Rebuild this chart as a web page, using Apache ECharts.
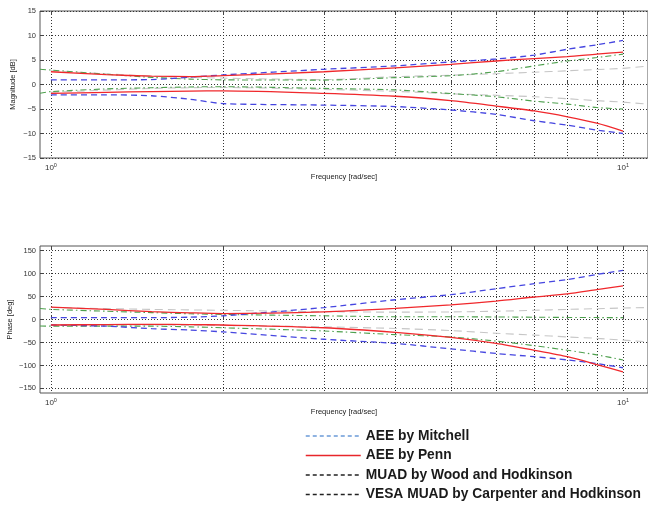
<!DOCTYPE html>
<html>
<head>
<meta charset="utf-8">
<script src="https://cdn.jsdelivr.net/npm/echarts@6.0.0/dist/echarts.min.js"></script>
<style>html,body{margin:0;padding:0;background:#fff}#c{width:648px;height:506px}</style>
</head>
<body>
<div id="c"></div>
<script>
// ---- data ----
const FREQ   = [1, 1.25, 1.5, 1.75, 2, 3, 4, 5, 6, 7, 8, 9, 10];
const FREQ_G = [0.957, 1, 1.25, 1.5, 1.75, 2, 3, 4, 5, 6, 7, 8, 9, 10];
const FREQ_V = [1, 1.5, 2, 3, 4, 5, 6, 7, 8, 9, 10, 11.06];

// Magnitude [dB]
const MAG_MITCHELL_UP = [0.95, 0.95, 1.0, 1.5, 1.95, 3.1, 3.8, 4.6, 5.2, 6.0, 7.2, 8.1, 9.0];
const MAG_MITCHELL_LO = [-2.1, -2.1, -2.3, -3.0, -3.9, -4.2, -4.5, -5.2, -6.1, -7.4, -8.3, -9.3, -10.0];
const MAG_PENN_UP     = [2.6, 2.0, 1.7, 1.6, 1.8, 2.6, 3.4, 4.1, 4.8, 5.3, 5.7, 6.2, 6.6];
const MAG_PENN_LO     = [-1.8, -1.6, -1.45, -1.35, -1.3, -1.8, -2.4, -3.3, -4.4, -5.4, -6.6, -7.9, -9.5];
const MAG_WOOD_UP     = [3.1, 2.95, 2.1, 1.45, 1.1, 0.95, 0.9, 1.4, 1.8, 2.6, 3.8, 4.8, 5.5, 6.2];
const MAG_WOOD_LO     = [-1.8, -1.45, -0.9, -0.65, -0.5, -0.45, -0.8, -1.1, -1.85, -2.5, -3.4, -4.0, -4.7, -5.0];
const MAG_VESA_UP     = [2.8, 1.7, 1.3, 1.0, 1.6, 1.9, 2.2, 2.5, 2.8, 3.05, 3.3, 3.75];
const MAG_VESA_LO     = [-1.6, -0.8, -0.6, -1.0, -1.4, -1.9, -2.2, -2.5, -2.9, -3.3, -3.6, -4.0];

// Phase [deg]
const PH_MITCHELL_UP = [4, 4, 4, 5, 8, 26, 43, 54, 67, 78, 87, 98, 107];
const PH_MITCHELL_LO = [-12, -14.5, -20, -23, -27, -43, -52, -64, -74, -81, -88, -96, -105];
const PH_PENN_UP     = [27, 22, 17, 14.5, 13, 16.5, 24, 32, 40, 49, 56, 65, 73];
const PH_PENN_LO     = [-12, -11, -10.5, -11, -12, -18, -28, -39, -52, -67, -81, -98, -114];
const PH_WOOD_UP     = [24, 22, 18, 15, 12.5, 11, 8, 6, 6, 5.5, 5, 4.5, 4.2, 4];
const PH_WOOD_LO     = [-14, -14.5, -14.5, -14.5, -16, -18, -25, -33, -38, -47, -57, -67, -77, -88];
const PH_VESA_UP     = [26, 22, 20, 17, 16, 16.5, 18, 20, 22, 23.5, 25, 26];
const PH_VESA_LO     = [-12, -12, -13, -16, -19.5, -24, -30, -34, -38, -41, -45, -48.5];

// axes
const X_MIN = 0.957, X_MAX = 11.06;
const X_TICKS = [1, 2, 3, 4, 5, 6, 7, 8, 9, 10];
const X_LABELS = [1, 10];
const MAG_TICKS = [-15, -10, -5, 0, 5, 10, 15];
const PHASE_TICKS = [-150, -100, -50, 0, 50, 100, 150];

const NAMES = ['AEE by Mitchell', 'AEE by Penn', 'MUAD by Wood and Hodkinson', 'VESA MUAD by Carpenter and Hodkinson'];

// ---- styles ----
const ST = {
  mitchell: {color: '#4646e0', type: [6, 4], width: 1.3},
  penn:     {color: '#f0282c', type: 'solid', width: 1.3},
  wood:     {color: '#4ea04e', type: [6, 3, 1.5, 3], width: 1.1},
  vesa:     {color: '#c6c6c6', type: [8, 5], width: 1.1}
};

function ser(name, xs, ys, g, st, z) {
  return {
    type: 'line', name: name, xAxisIndex: g, yAxisIndex: g,
    data: xs.map((f, i) => [f, ys[i]]),
    symbol: 'none', smooth: 0.25, z: z,
    lineStyle: {color: st.color, type: st.type, width: st.width},
    itemStyle: {color: st.color},
    emphasis: {disabled: true}
  };
}

const minus = v => String(v).replace('-', '\u2212');

function xAxis(g) {
  return {
    type: 'log', logBase: 10, gridIndex: g, min: X_MIN, max: X_MAX,
    axisLine: {show: false},
    axisTick: {show: true, inside: true, length: 4, customValues: X_TICKS, lineStyle: {color: '#444', width: 1}},
    axisLabel: {
      customValues: X_LABELS, margin: 4, color: '#333', fontSize: 8, fontFamily: 'Liberation Sans',
      formatter: v => '10{s|' + Math.round(Math.log10(v)) + '}',
      rich: {s: {fontSize: 5.5, padding: [0, 0, 6, 0], color: '#333', fontFamily: 'Liberation Sans'}}
    },
    splitLine: {show: true, lineStyle: {type: [1, 2], color: '#333', width: 1}},
    name: 'Frequency [rad/sec]', nameLocation: 'middle', nameGap: 15, nameMoveOverlap: false,
    nameTextStyle: {fontSize: 7.5, color: '#222', fontFamily: 'Liberation Sans'}
  };
}
function xAxisTop(g) {
  return {
    type: 'log', logBase: 10, gridIndex: g, min: X_MIN, max: X_MAX, position: 'top',
    axisLine: {show: false},
    axisTick: {show: true, inside: true, length: 4, customValues: X_TICKS, lineStyle: {color: '#444'}},
    axisLabel: {show: false}, splitLine: {show: false}
  };
}
function yAxis(g, min, max, ticks, name, gap) {
  return {
    type: 'value', gridIndex: g, min: min, max: max,
    axisLine: {show: false},
    axisTick: {show: true, inside: true, length: 4, customValues: ticks, lineStyle: {color: '#444'}},
    axisLabel: {customValues: ticks, formatter: minus, fontSize: 7.5, color: '#333', margin: 4, fontFamily: 'Liberation Sans'},
    splitLine: {show: true, lineStyle: {type: [1, 2], color: '#333', width: 1}},
    name: name, nameLocation: 'middle', nameGap: gap, nameRotate: 90, nameMoveOverlap: false,
    nameTextStyle: {fontSize: 7.5, color: '#222', fontFamily: 'Liberation Sans'}
  };
}

const series = [
  ser(NAMES[3], FREQ_V, MAG_VESA_UP, 0, ST.vesa, 2),
  ser(NAMES[3], FREQ_V, MAG_VESA_LO, 0, ST.vesa, 2),
  ser(NAMES[2], FREQ_G, MAG_WOOD_UP, 0, ST.wood, 3),
  ser(NAMES[2], FREQ_G, MAG_WOOD_LO, 0, ST.wood, 3),
  ser(NAMES[0], FREQ, MAG_MITCHELL_UP, 0, ST.mitchell, 4),
  ser(NAMES[0], FREQ, MAG_MITCHELL_LO, 0, ST.mitchell, 4),
  ser(NAMES[1], FREQ, MAG_PENN_UP, 0, ST.penn, 5),
  ser(NAMES[1], FREQ, MAG_PENN_LO, 0, ST.penn, 5),
  ser(NAMES[3], FREQ_V, PH_VESA_UP, 1, ST.vesa, 2),
  ser(NAMES[3], FREQ_V, PH_VESA_LO, 1, ST.vesa, 2),
  ser(NAMES[2], FREQ_G, PH_WOOD_UP, 1, ST.wood, 3),
  ser(NAMES[2], FREQ_G, PH_WOOD_LO, 1, ST.wood, 3),
  ser(NAMES[0], FREQ, PH_MITCHELL_UP, 1, ST.mitchell, 4),
  ser(NAMES[0], FREQ, PH_MITCHELL_LO, 1, ST.mitchell, 4),
  ser(NAMES[1], FREQ, PH_PENN_UP, 1, ST.penn, 5),
  ser(NAMES[1], FREQ, PH_PENN_LO, 1, ST.penn, 5)
];

const hidden = {opacity: 0, borderWidth: 0};
const chart = echarts.init(document.getElementById('c'), null, {renderer: 'canvas'});
chart.setOption({
  animation: false,
  backgroundColor: '#ffffff',
  grid: [
    {left: 40, right: 0, top: 11, height: 147, show: true, borderColor: '#555', borderWidth: 1, containLabel: false, outerBoundsMode: 'none'},
    {left: 40, right: 0, top: 246, height: 147, show: true, borderColor: '#555', borderWidth: 1, containLabel: false, outerBoundsMode: 'none'}
  ],
  xAxis: [xAxis(0), xAxis(1), xAxisTop(0), xAxisTop(1)],
  yAxis: [
    yAxis(0, -15, 15, MAG_TICKS, 'Magnitude [dB]', 23),
    yAxis(1, -160, 160, PHASE_TICKS, 'Phase [deg]', 26)
  ],
  legend: {
    orient: 'vertical', left: 305, top: 429, height: 80, width: 343, padding: 0,
    itemWidth: 55, itemHeight: 14, itemGap: 5.5,
    textStyle: {fontSize: 13.8, fontWeight: 'bold', color: '#1a1a1a', fontFamily: 'Liberation Sans', lineHeight: 14},
    selectedMode: false,
    data: [
      {name: NAMES[0], itemStyle: hidden, lineStyle: {color: '#6b9bd8', type: [4, 3], width: 1.5}},
      {name: NAMES[1], itemStyle: hidden, lineStyle: {color: '#e8262b', type: 'solid', width: 1.5}},
      {name: NAMES[2], itemStyle: hidden, lineStyle: {color: '#222222', type: [4, 3], width: 1.5}},
      {name: NAMES[3], itemStyle: hidden, lineStyle: {color: '#222222', type: [4, 3], width: 1.5}}
    ]
  },
  series: series
});
</script>
</body>
</html>
